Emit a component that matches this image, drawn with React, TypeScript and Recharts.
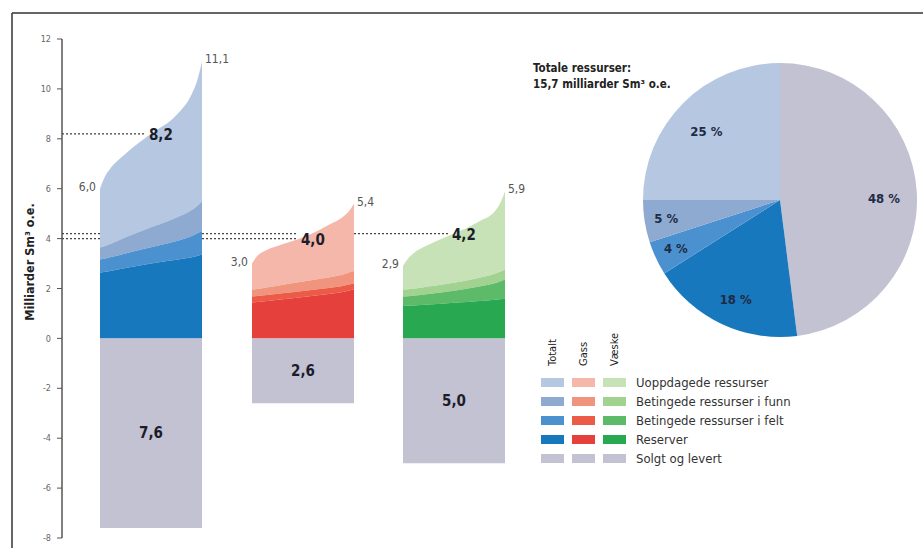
import React from "react";
import {
  ComposedChart,
  Area,
  Scatter,
  XAxis,
  YAxis,
  ReferenceLine,
  PieChart,
  Pie,
  Cell,
} from "recharts";

// ---- data ----
const groups = ["Totalt", "Gass", "Væske"];
const layers = [
  "Uoppdagede ressurser",
  "Betingede ressurser i funn",
  "Betingede ressurser i felt",
  "Reserver",
  "Solgt og levert",
];

// position along the uncertainty range (low -> high estimate)
const percentiles = [0, 0.05, 0.1, 0.25, 0.5, 0.75, 0.9, 0.95, 1];

const totaltReserver = [2.64, 2.67, 2.7, 2.82, 3.0, 3.15, 3.25, 3.3, 3.36];
const totaltFelt = [0.52, 0.53, 0.55, 0.58, 0.65, 0.75, 0.85, 0.9, 0.94];
const totaltFunn = [0.48, 0.5, 0.53, 0.65, 0.8, 0.95, 1.05, 1.1, 1.2];
const totaltUoppdaget = [2.36, 2.8, 3.02, 3.35, 3.75, 4.1, 4.65, 5.0, 5.6];

const gassReserver = [1.44, 1.46, 1.48, 1.55, 1.66, 1.78, 1.87, 1.92, 1.96];
const gassFelt = [0.24, 0.24, 0.24, 0.24, 0.24, 0.24, 0.24, 0.24, 0.24];
const gassFunn = [0.28, 0.28, 0.29, 0.32, 0.38, 0.42, 0.46, 0.48, 0.5];
const gassUoppdaget = [1.04, 1.32, 1.44, 1.59, 1.77, 2.11, 2.33, 2.46, 2.7];

const vaeskeReserver = [1.3, 1.31, 1.32, 1.36, 1.43, 1.5, 1.55, 1.57, 1.6];
const vaeskeFelt = [0.38, 0.38, 0.39, 0.42, 0.48, 0.58, 0.66, 0.71, 0.76];
const vaeskeFunn = [0.28, 0.28, 0.28, 0.3, 0.32, 0.35, 0.38, 0.39, 0.4];
const vaeskeUoppdaget = [0.94, 1.23, 1.41, 1.67, 1.97, 2.27, 2.51, 2.73, 3.14];

const solgt = [7.6, 2.6, 5.0];
const expected = [8.2, 4.0, 4.2];
const lowEnd = [6.0, 3.0, 2.9];
const highEnd = [11.1, 5.4, 5.9];

const pieTotal = 15.7;
const pieShares = [25, 5, 4, 18, 48]; // same order as layers

const yTicks = [-8, -6, -4, -2, 0, 2, 4, 6, 8, 10, 12];

// ---- styling ----
const colors = [
  ["#b5c7e1", "#8eaad0", "#4b91d0", "#1878bd", "#c3c2d2"],
  ["#f5b7a9", "#f1947d", "#ec5a48", "#e5403c", "#c3c2d2"],
  ["#c8e2b8", "#a2d290", "#5cba69", "#28a851", "#c3c2d2"],
];
const FONT = "'Liberation Sans Narrow', 'DejaVu Sans Condensed', 'Open Sans', sans-serif";
const groupStart = [0.76, 3.8, 6.82];
const groupWidth = 2.04;

const fmt = (v: number) => v.toFixed(1).replace(".", ",");

function buildRows(gi: number, res: number[], felt: number[], funn: number[], uopp: number[]) {
  return percentiles.map((p, i) => {
    const a = res[i];
    const b = a + felt[i];
    const c = b + funn[i];
    const d = c + uopp[i];
    return {
      x: groupStart[gi] + p * groupWidth,
      res: [0, a],
      felt: [a, b],
      funn: [b, c],
      uopp: [c, d],
    };
  });
}

const groupRows = [
  buildRows(0, totaltReserver, totaltFelt, totaltFunn, totaltUoppdaget),
  buildRows(1, gassReserver, gassFelt, gassFunn, gassUoppdaget),
  buildRows(2, vaeskeReserver, vaeskeFelt, vaeskeFunn, vaeskeUoppdaget),
];

const solgtRows = solgt.map((v, gi) => [
  { x: groupStart[gi], v: [-v, 0] },
  { x: groupStart[gi] + groupWidth, v: [-v, 0] },
]);

const labelRows = [
  ...lowEnd.map((v, gi) => ({ x: groupStart[gi] - 0.08, y: v, text: fmt(v), kind: "endL" })),
  ...highEnd.map((v, gi) => ({ x: groupStart[gi] + groupWidth + 0.06, y: v, text: fmt(v), kind: "endR" })),
  ...expected.map((v, gi) => ({ x: groupStart[gi] + 0.48 * groupWidth, y: v, text: fmt(v), kind: "exp" })),
  ...solgt.map((v, gi) => ({ x: groupStart[gi] + 0.5 * groupWidth, y: -v / 2, text: fmt(v), kind: "bar" })),
];

function LabelShape(props: any) {
  const { cx, cy, payload } = props;
  if (payload.kind === "endL" || payload.kind === "endR") {
    return (
      <text
        x={cx}
        y={cy + 2}
        textAnchor={payload.kind === "endL" ? "end" : "start"}
        fontSize={12}
        fill="#555"
        fontFamily={FONT}
      >
        {payload.text}
      </text>
    );
  }
  return (
    <text
      x={cx}
      y={cy + (payload.kind === "exp" ? 6 : 5)}
      textAnchor={payload.kind === "exp" ? "start" : "middle"}
      fontSize={15}
      fontWeight="bold"
      fill="#1c1c2a"
      fontFamily="'DejaVu Sans Condensed', 'Liberation Sans', sans-serif"
    >
      {payload.text}
    </text>
  );
}

const dotted = { stroke: "#444", strokeDasharray: "2 2", strokeWidth: 1.2 };
const lineEnd = (gi: number) => groupStart[gi] + 0.45 * groupWidth;

const RAD = Math.PI / 180;
function pieLabel(props: any) {
  const { cx, cy, midAngle, outerRadius, value } = props;
  const small = value < 10;
  const r = outerRadius * (small ? 0.84 : 0.76);
  const x = cx + r * Math.cos(-midAngle * RAD);
  const y = cy + r * Math.sin(-midAngle * RAD) + (small ? 0 : 5);
  return (
    <text
      x={x}
      y={y}
      textAnchor="middle"
      dominantBaseline="central"
      fontSize={13}
      fontWeight="bold"
      fill="#1f2a44"
      fontFamily="'DejaVu Sans Condensed', 'Liberation Sans', sans-serif"
    >
      {value} %
    </text>
  );
}

const pieData = layers
  .map((name, i) => ({ name, value: pieShares[i], color: colors[0][i] }))
  .reverse();

export default function App() {
  return (
    <div style={{ position: "absolute", left: 0, top: 0, width: 923, height: 548, background: "#fff" }}>
      <ComposedChart width={923} height={548} margin={{ top: 39, right: 361, bottom: 10, left: 0 }}>
        <XAxis type="number" dataKey="x" domain={[0, 10]} hide allowDataOverflow />
        <YAxis
          type="number"
          domain={[-8, 12]}
          ticks={yTicks}
          interval={0}
          width={62}
          tickSize={5}
          tickMargin={6}
          axisLine={{ stroke: "#555", strokeWidth: 1.5 }}
          tickLine={{ stroke: "#555" }}
          tick={{ fontSize: 9, fill: "#666", fontFamily: FONT }}
          allowDataOverflow
        />

        {/* dotted guides for expected values, kept outside the areas */}
        <ReferenceLine segment={[{ x: 0, y: expected[1] }, { x: groupStart[0], y: expected[1] }]} {...dotted} ifOverflow="visible" />
        <ReferenceLine segment={[{ x: groupStart[0] + groupWidth, y: expected[1] }, { x: lineEnd(1), y: expected[1] }]} {...dotted} ifOverflow="visible" />
        <ReferenceLine segment={[{ x: 0, y: expected[2] }, { x: groupStart[0], y: expected[2] }]} {...dotted} ifOverflow="visible" />
        <ReferenceLine segment={[{ x: groupStart[0] + groupWidth, y: expected[2] }, { x: lineEnd(1), y: expected[2] }]} {...dotted} ifOverflow="visible" />
        <ReferenceLine segment={[{ x: groupStart[1] + groupWidth, y: expected[2] }, { x: lineEnd(2), y: expected[2] }]} {...dotted} ifOverflow="visible" />

        {groupRows.map((rows, gi) =>
          ["uopp", "funn", "felt", "res"].map((key, li) => (
            <Area
              key={`${gi}-${key}`}
              data={rows}
              dataKey={key}
              type="monotone"
              fill={colors[gi][li]}
              fillOpacity={1}
              stroke="none"
              isAnimationActive={false}
            />
          ))
        )}
        {solgtRows.map((rows, gi) => (
          <Area
            key={`solgt-${gi}`}
            data={rows}
            dataKey="v"
            type="linear"
            fill={colors[gi][4]}
            fillOpacity={1}
            stroke="none"
            isAnimationActive={false}
          />
        ))}

        <ReferenceLine segment={[{ x: 0, y: expected[0] }, { x: lineEnd(0), y: expected[0] }]} {...dotted} ifOverflow="visible" />

        <Scatter data={labelRows} dataKey="y" shape={LabelShape} isAnimationActive={false} />
      </ComposedChart>

      <div style={{ position: "absolute", left: 630, top: 50 }}>
        <PieChart width={300} height={300} margin={{ top: 0, right: 0, bottom: 0, left: 0 }}>
          <Pie
            data={pieData}
            dataKey="value"
            cx={150}
            cy={150}
            outerRadius={137}
            startAngle={90}
            endAngle={-270}
            stroke="none"
            label={pieLabel}
            labelLine={false}
            isAnimationActive={false}
          >
            {pieData.map((d) => (
              <Cell key={d.name} fill={d.color} />
            ))}
          </Pie>
        </PieChart>
      </div>

      <svg width={923} height={548} style={{ position: "absolute", left: 0, top: 0, pointerEvents: "none" }}>
        <line x1={12} y1={13} x2={923} y2={13} stroke="#333" strokeWidth={1.5} />
        <line x1={12} y1={13} x2={12} y2={548} stroke="#333" strokeWidth={1.5} />
        <text
          transform="translate(34,262) rotate(-90)"
          textAnchor="middle"
          fontSize={12.5}
          fontWeight={600}
          fill="#222"
          fontFamily={FONT}
        >
          Milliarder Sm³ o.e.
        </text>
        <text x={533} y={72} fontSize={11.5} fontWeight={600} fill="#222" fontFamily={FONT}>
          Totale ressurser:
        </text>
        <text x={533} y={88} fontSize={11.5} fontWeight={600} fill="#222" fontFamily={FONT}>
          {fmt(pieTotal)} milliarder Sm³ o.e.
        </text>
        {groups.map((g, gi) => (
          <text
            key={g}
            transform={`translate(${556 + gi * 31},366) rotate(-90)`}
            fontSize={11}
            fill="#222"
            fontFamily={FONT}
          >
            {g}
          </text>
        ))}
        {layers.map((name, li) => (
          <g key={name}>
            {groups.map((g, gi) => (
              <rect
                key={g}
                x={541 + gi * 31}
                y={378 + li * 19}
                width={23}
                height={9}
                fill={colors[gi][li]}
              />
            ))}
            <text x={636} y={387 + li * 19} fontSize={13} fill="#333" fontFamily={FONT}>
              {name}
            </text>
          </g>
        ))}
      </svg>
    </div>
  );
}
